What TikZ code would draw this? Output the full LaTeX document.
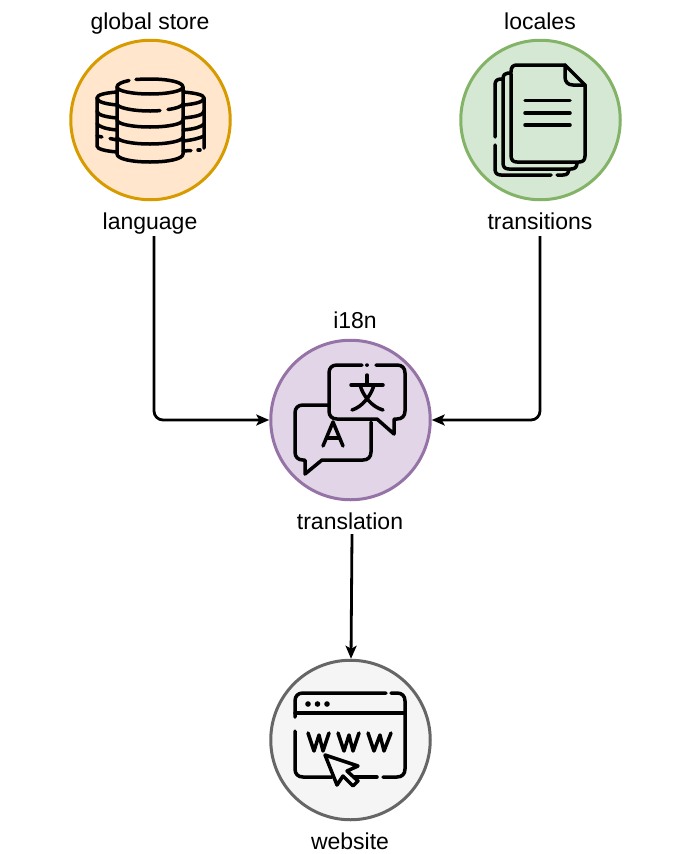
\documentclass[tikz,border=0pt]{standalone}
\usepackage{fontspec}
\setmainfont{Liberation Sans}
\usetikzlibrary{arrows.meta}
\tikzset{
  x=1pt,y=-1pt,
  disc/.style={circle,draw,line width=3pt,minimum size=159.5pt,inner sep=0pt},
  lbl/.style={inner sep=0pt,anchor=base,text depth=5pt,font=\fontsize{23}{26}\selectfont,text=black},
  conn/.style={line width=2.8pt,rounded corners=9pt,-{Stealth[length=13pt,width=11pt,inset=3pt]}},
  ico/.style={line width=3.5pt,line cap=round,line join=round,draw=black}
}
\begin{document}
\begin{tikzpicture}
\useasboundingbox (0,0) rectangle (691,854);
% discs
\node[disc,fill={rgb,255:red,255;green,230;blue,204},draw={rgb,255:red,215;green,155;blue,0}] (store) at (150.5,120) {};
\node[disc,fill={rgb,255:red,213;green,232;blue,212},draw={rgb,255:red,130;green,179;blue,102}] (loc) at (540.5,120) {};
\node[disc,fill={rgb,255:red,225;green,213;blue,231},draw={rgb,255:red,150;green,115;blue,166}] (i18n) at (350.5,420) {};
\node[disc,fill={rgb,255:red,245;green,245;blue,245},draw={rgb,255:red,102;green,102;blue,102}] (web) at (350.5,740) {};
% labels
\node[lbl] (tstore) at (150,29) {global store};
\node[lbl] (lang) at (150,229) {language};
\node[lbl] (tloc) at (540,29) {locales};
\node[lbl] (trans) at (540,229) {transitions};
\node[lbl] (ti18n) at (355,328) {i18n};
\node[lbl] (tr) at (350,529) {translation};
\node[lbl] (tweb) at (350,849) {website};
% connectors
\draw[conn] ([xshift=4pt,yshift=-2pt]lang.south) |- (i18n.west);
\draw[conn] ([yshift=-2pt]trans.south) |- (i18n.east);
\draw[conn,rounded corners=0pt] ([xshift=2pt]tr.south) -- ([xshift=0.5pt]web.north);
% database icon
\begin{scope}[ico]
 % side cylinders
 \draw (117,92) .. controls (104,93) and (97,95) .. (97,98) -- (97,146) .. controls (97,149) and (105,151) .. (117,152);
 \draw (97,98) .. controls (97,102) and (106,104) .. (117,105);
 \draw (97,111) .. controls (97,115) and (106,117) .. (117,118);
 \draw (97,124) .. controls (100,127) and (106,129) .. (117,130);
 \draw (97,136) -- (102,137);
 \draw (110,138.5) -- (117,140);
 \draw (183,92) .. controls (196,93) and (204,95) .. (204,98) -- (204,148);
 \draw (198,150) -- (200,150);
 \draw (183,151) -- (191,150.5);
 \draw (204,98) .. controls (204,102) and (195,104) .. (183,105);
 \draw (204,111) .. controls (204,115) and (195,117) .. (183,118);
 \draw (204,124) .. controls (201,127) and (195,129) .. (183,130);
 \draw (204,136) .. controls (200,138) and (193,140) .. (183,141);
 % centre cylinder
 \draw (129,80.5) .. controls (122,82) and (117,84) .. (117,87) -- (117,154) .. controls (117,159) and (132,162) .. (150,162) .. controls (168,162) and (183,159) .. (183,154) -- (183,87) .. controls (183,82) and (168,79) .. (150,79) .. controls (147,79) and (143,79) .. (136,79.5);
 \draw (117,87) .. controls (117,91) and (132,94) .. (150,94) .. controls (168,94) and (183,91) .. (183,87);
 \draw (117,104) .. controls (117,107.5) and (132,111) .. (150,111) .. controls (152,111) and (157,111) .. (160,110.5);
 \draw (168,109.5) .. controls (176,108.5) and (183,106) .. (183,104);
 \draw (117,120) .. controls (117,124) and (132,127) .. (150,127) .. controls (168,127) and (183,124) .. (183,120);
 \draw (117,137) .. controls (117,141) and (132,144) .. (150,144) .. controls (168,144) and (183,141) .. (183,137);
 % document icon
 \draw (511,74) -- (511,155) .. controls (511,160) and (513,162) .. (517,162) -- (579,162) .. controls (583,162) and (585,160) .. (585,156) -- (585,85) -- (565,65) -- (517,65) .. controls (513,65) and (511,67) .. (511,72);
 \draw (565,65) -- (565,77) .. controls (565,82) and (568,85) .. (573,85) -- (585,85);
 \draw (511,73) -- (508,73) .. controls (505,73) and (503,75) .. (503,79);
 \draw (503,79) -- (503,163) .. controls (503,167) and (505,169) .. (509,169) -- (571,169) .. controls (575,169) and (577,167) .. (577,163);
 \draw (503,79) -- (501,79) .. controls (497,79) and (495,81) .. (495,85) -- (495,137);
 \draw (495,145) -- (495,169) .. controls (495,173) and (497,175) .. (501,175) -- (551,175);
 \draw (557,175) -- (563,175) .. controls (567,175) and (569,173) .. (569,170);
 \draw (525,100.5) -- (570,100.5);
 \draw (525,113) -- (570,113);
 \draw (525,125) -- (570,125);
 % translate icon
 \draw (362,365) -- (337,365) .. controls (332,365) and (329,368) .. (329,373) -- (329,411) .. controls (329,416) and (332,419) .. (337,419) -- (377,419) -- (394,434) -- (394,419) -- (397,419) .. controls (402,419) and (405,416) .. (405,411) -- (405,373) .. controls (405,368) and (402,365) .. (397,365) -- (376,365);
 \draw (367,365) -- (367,365.1);
 \draw (329,405) -- (303,405) .. controls (298,405) and (295,408) .. (295,413) -- (295,452) .. controls (295,457) and (298,460) .. (303,460) -- (305,460) -- (305,474) -- (322,460) -- (363,460) .. controls (368,460) and (371,457) .. (371,452) -- (371,422);
 \draw (333,422) -- (323,446);
 \draw (333,422) -- (343,446);
 \draw (327,438) -- (339,438);
 \draw (367,375) -- (367,385);
 \draw (351,385) -- (383,385);
 \draw (360,385) .. controls (363,396) and (372,407) .. (383,410);
 \draw (374,385) .. controls (371,396) and (362,407) .. (352,410);
 % website icon
 \draw (386,693) -- (303,693) .. controls (298,693) and (295,696) .. (295,701) -- (295,717);
 \draw (391,693) -- (397,693) .. controls (402,693) and (405,696) .. (405,701) -- (405,769) .. controls (405,774) and (402,777) .. (397,777) -- (383,777);
 \draw (377,777) -- (354,777);
 \draw (332,777) -- (303,777) .. controls (298,777) and (295,774) .. (295,769) -- (295,731);
 \draw (295,713) -- (405,713);
 \draw (308,733) -- (314,751) -- (319,735) -- (323,751) -- (329,733);
 \draw (338,733) -- (344,751) -- (349,735) -- (353,751) -- (359,733);
 \draw (368,733) -- (374,751) -- (380,735) -- (384,751) -- (391,733);
 \draw[fill={rgb,255:red,245;green,245;blue,245}] (325,755) -- (358,766) -- (347,771) -- (358,781) -- (353,786) -- (343,776) -- (337,785) -- cycle;
\end{scope}
\fill (308,704) circle (2.8pt) (317.5,704) circle (2.8pt) (327,704) circle (2.8pt);
\end{tikzpicture}
\end{document}
